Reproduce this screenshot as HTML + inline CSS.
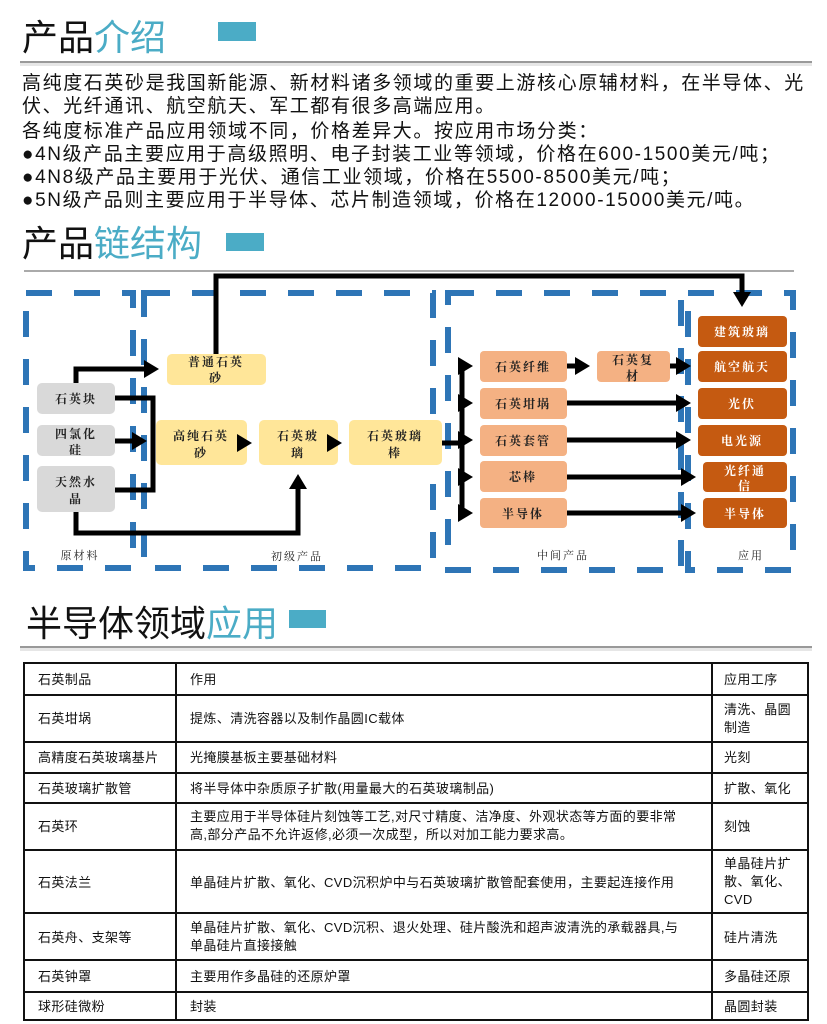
<!DOCTYPE html>
<html><head><meta charset="utf-8"><style>
html,body{margin:0;padding:0;background:#fff;}
svg{display:block;}
.h{font-family:"Liberation Sans","Noto Sans CJK SC",sans-serif;font-size:36px;}
.p{font-family:"Liberation Sans","Noto Sans CJK SC",sans-serif;font-size:19px;fill:#111;letter-spacing:1.6px;}
.n{font-family:"Noto Serif CJK SC",serif;font-size:12px;font-weight:bold;letter-spacing:2px;text-anchor:middle;fill:#222;}
.w{fill:#fff;}
.l{font-family:"Noto Serif CJK SC",serif;font-size:11px;letter-spacing:2px;text-anchor:middle;fill:#222;}
.t{font-family:"Liberation Sans","Noto Sans CJK SC",sans-serif;font-size:13px;fill:#111;letter-spacing:0.4px;}
</style></head><body>
<svg width="827" height="1024" viewBox="0 0 827 1024">
<defs><marker id="a" markerWidth="4" markerHeight="4" refX="2.2" refY="2" orient="auto" markerUnits="strokeWidth"><path d="M0,0.2 L3,2 L0,3.8z" fill="#000"/></marker></defs>
<!-- heading 1 -->
<text class="h" x="22" y="50"><tspan fill="#111">产品</tspan><tspan fill="#4bacc6">介绍</tspan></text>
<rect x="218" y="22" width="38" height="19" fill="#4bacc6"/>
<rect x="20" y="61" width="792" height="2" fill="#999"/>
<rect x="20" y="63" width="792" height="3" fill="#e6e6e6"/>
<text class="p" x="22" y="89">高纯度石英砂是我国新能源、新材料诸多领域的重要上游核心原辅材料，在半导体、光</text>
<text class="p" x="22" y="112">伏、光纤通讯、航空航天、军工都有很多高端应用。</text>
<text class="p" x="22" y="137">各纯度标准产品应用领域不同，价格差异大。按应用市场分类：</text>
<text class="p" x="22" y="160">●4N级产品主要应用于高级照明、电子封装工业等领域，价格在600-1500美元/吨；</text>
<text class="p" x="22" y="183">●4N8级产品主要用于光伏、通信工业领域，价格在5500-8500美元/吨；</text>
<text class="p" x="22" y="206">●5N级产品则主要应用于半导体、芯片制造领域，价格在12000-15000美元/吨。</text>
<!-- heading 2 -->
<text class="h" x="22" y="256"><tspan fill="#111">产品</tspan><tspan fill="#4bacc6">链结构</tspan></text>
<rect x="226" y="233" width="38" height="18" fill="#4bacc6"/>
<rect x="24" y="270" width="770" height="2" fill="#aaa"/>
<!-- dashed boxes -->
<g fill="none" stroke="#2e75b6" stroke-width="6" stroke-dasharray="26,22">
<rect x="26" y="293" width="107" height="275"/>
<rect x="144" y="293" width="289" height="275"/>
<rect x="448" y="293" width="233" height="277"/>
<rect x="688" y="293" width="105" height="277"/>
</g>
<!-- nodes -->
<g fill="#d9d9d9"><rect x="37" y="383" width="78" height="31" rx="5"/><rect x="37" y="425" width="78" height="31" rx="5"/><rect x="37" y="466" width="78" height="46" rx="5"/></g>
<g fill="#ffe699"><rect x="167" y="354" width="99" height="31" rx="5"/><rect x="156" y="420" width="91" height="45" rx="5"/><rect x="259" y="420" width="79" height="45" rx="5"/><rect x="349" y="420" width="93" height="45" rx="5"/></g>
<g fill="#f4b183"><rect x="480" y="351" width="87" height="31" rx="4"/><rect x="480" y="388" width="87" height="31" rx="4"/><rect x="480" y="425" width="87" height="31" rx="4"/><rect x="480" y="461" width="87" height="31" rx="4"/><rect x="480" y="498" width="87" height="30" rx="4"/><rect x="597" y="351" width="73" height="31" rx="4"/></g>
<g fill="#c55a11"><rect x="698" y="316" width="89" height="31" rx="4"/><rect x="698" y="351" width="89" height="31" rx="4"/><rect x="698" y="388" width="89" height="31" rx="4"/><rect x="698" y="425" width="89" height="31" rx="4"/><rect x="703" y="462" width="84" height="30" rx="4"/><rect x="703" y="498" width="84" height="30" rx="4"/></g>
<!-- arrows -->
<g fill="none" stroke="#000" stroke-width="5">
<polyline points="216,354 216,276 742,276 742,303" marker-end="url(#a)"/>
<polyline points="76,383 76,369 155,369" marker-end="url(#a)"/>
<polyline points="115,398 153,398 153,490 115,490"/>
<line x1="115" y1="441" x2="143" y2="441" marker-end="url(#a)"/>
<polyline points="76,512 76,533 298,533 298,478" marker-end="url(#a)"/>
<line x1="247" y1="443" x2="247" y2="443"/>
<line x1="240" y1="443" x2="248" y2="443" marker-end="url(#a)"/>
<line x1="335" y1="443" x2="338" y2="443" marker-end="url(#a)"/>
<line x1="442" y1="443" x2="462" y2="443"/>
<line x1="462" y1="364" x2="462" y2="516"/>
<line x1="462" y1="366" x2="469" y2="366" marker-end="url(#a)"/>
<line x1="462" y1="403" x2="469" y2="403" marker-end="url(#a)"/>
<line x1="462" y1="440" x2="469" y2="440" marker-end="url(#a)"/>
<line x1="462" y1="477" x2="469" y2="477" marker-end="url(#a)"/>
<line x1="462" y1="513" x2="469" y2="513" marker-end="url(#a)"/>
<line x1="567" y1="366" x2="586" y2="366" marker-end="url(#a)"/>
<line x1="670" y1="366" x2="687" y2="366" marker-end="url(#a)"/>
<line x1="567" y1="403" x2="687" y2="403" marker-end="url(#a)"/>
<line x1="567" y1="440" x2="687" y2="440" marker-end="url(#a)"/>
<line x1="567" y1="477" x2="692" y2="477" marker-end="url(#a)"/>
<line x1="567" y1="513" x2="692" y2="513" marker-end="url(#a)"/>
</g>
<!-- node labels -->
<text class="n" x="76" y="403">石英块</text>
<text class="n" x="76" y="438">四氯化</text><text class="n" x="76" y="454">硅</text>
<text class="n" x="76" y="486">天然水</text><text class="n" x="76" y="503">晶</text>
<text class="n" x="216" y="366">普通石英</text><text class="n" x="216" y="382">砂</text>
<text class="n" x="201" y="440">高纯石英</text><text class="n" x="201" y="457">砂</text>
<text class="n" x="298" y="440">石英玻</text><text class="n" x="298" y="457">璃</text>
<text class="n" x="395" y="440">石英玻璃</text><text class="n" x="395" y="457">棒</text>
<text class="n" x="523" y="371">石英纤维</text>
<text class="n" x="523" y="408">石英坩埚</text>
<text class="n" x="523" y="445">石英套管</text>
<text class="n" x="523" y="481">芯棒</text>
<text class="n" x="523" y="518">半导体</text>
<text class="n" x="633" y="364">石英复</text><text class="n" x="633" y="380">材</text>
<text class="n w" x="742" y="336">建筑玻璃</text>
<text class="n w" x="742" y="371">航空航天</text>
<text class="n w" x="742" y="408">光伏</text>
<text class="n w" x="742" y="445">电光源</text>
<text class="n w" x="745" y="475">光纤通</text><text class="n w" x="745" y="490">信</text>
<text class="n w" x="745" y="518">半导体</text>
<text class="l" x="80" y="559">原材料</text>
<text class="l" x="297" y="560">初级产品</text>
<text class="l" x="563" y="559">中间产品</text>
<text class="l" x="751" y="559">应用</text>
<!-- heading 3 -->
<text class="h" x="26" y="636"><tspan fill="#111">半导体领域</tspan><tspan fill="#4bacc6">应用</tspan></text>
<rect x="289" y="610" width="37" height="18" fill="#4bacc6"/>
<rect x="20" y="646" width="792" height="2" fill="#999"/>
<rect x="20" y="648" width="792" height="3" fill="#e6e6e6"/>
<!-- table -->
<g stroke="#111" stroke-width="2" fill="none">
<rect x="24" y="663" width="784" height="357"/>
<line x1="176" y1="663" x2="176" y2="1020"/><line x1="712" y1="663" x2="712" y2="1020"/>
<line x1="24" y1="695" x2="808" y2="695"/><line x1="24" y1="742" x2="808" y2="742"/>
<line x1="24" y1="773" x2="808" y2="773"/><line x1="24" y1="803" x2="808" y2="803"/>
<line x1="24" y1="850" x2="808" y2="850"/><line x1="24" y1="913" x2="808" y2="913"/>
<line x1="24" y1="960" x2="808" y2="960"/><line x1="24" y1="992" x2="808" y2="992"/>
</g>
<g class="t">
<text x="38" y="684">石英制品</text><text x="190" y="684">作用</text><text x="724" y="684">应用工序</text>
<text x="38" y="723">石英坩埚</text><text x="190" y="723">提炼、清洗容器以及制作晶圆IC载体</text><text x="724" y="714">清洗、晶圆</text><text x="724" y="732">制造</text>
<text x="38" y="762">高精度石英玻璃基片</text><text x="190" y="762">光掩膜基板主要基础材料</text><text x="724" y="762">光刻</text>
<text x="38" y="793">石英玻璃扩散管</text><text x="190" y="793">将半导体中杂质原子扩散(用量最大的石英玻璃制品)</text><text x="724" y="793">扩散、氧化</text>
<text x="38" y="831">石英环</text><text x="190" y="821">主要应用于半导体硅片刻蚀等工艺,对尺寸精度、洁净度、外观状态等方面的要非常</text><text x="190" y="839">高,部分产品不允许返修,必须一次成型，所以对加工能力要求高。</text><text x="724" y="831">刻蚀</text>
<text x="38" y="887">石英法兰</text><text x="190" y="887">单晶硅片扩散、氧化、CVD沉积炉中与石英玻璃扩散管配套使用，主要起连接作用</text><text x="724" y="868">单晶硅片扩</text><text x="724" y="886">散、氧化、</text><text x="724" y="904">CVD</text>
<text x="38" y="942">石英舟、支架等</text><text x="190" y="932">单晶硅片扩散、氧化、CVD沉积、退火处理、硅片酸洗和超声波清洗的承载器具,与</text><text x="190" y="950">单晶硅片直接接触</text><text x="724" y="942">硅片清洗</text>
<text x="38" y="981">石英钟罩</text><text x="190" y="981">主要用作多晶硅的还原炉罩</text><text x="724" y="981">多晶硅还原</text>
<text x="38" y="1011">球形硅微粉</text><text x="190" y="1011">封装</text><text x="724" y="1011">晶圆封装</text>
</g>
</svg>
</body></html>
